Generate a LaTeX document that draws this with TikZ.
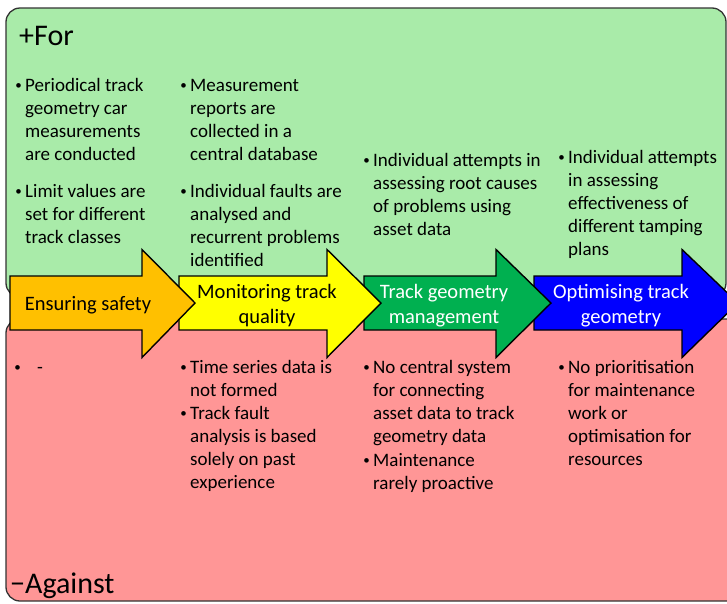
\documentclass[tikz,border=0pt]{standalone}
\usepackage{fontspec}
\setmainfont{Carlito}
\newcommand{\plines}[1]{\parbox[t]{220pt}{\raggedright #1}}
\definecolor{forgreen}{RGB}{169,235,169}
\definecolor{againstred}{RGB}{255,150,150}
\definecolor{arrorange}{RGB}{255,192,0}
\definecolor{arryellow}{RGB}{255,255,0}
\definecolor{arrgreen}{RGB}{0,176,80}
\definecolor{arrblue}{RGB}{0,0,255}
\begin{document}
\begin{tikzpicture}[x=1pt,y=-1pt,
  panel/.style={draw=black!80,line width=1.3pt,rounded corners=14pt},
  bigarrow/.style={draw=black,line width=1.4pt,line join=miter},
  bul/.style={anchor=base west,inner sep=0pt,font=\fontsize{19}{23.2}\selectfont},
  bdot/.style={anchor=base east,inner sep=0pt,font=\fontsize{13}{13}\selectfont},
  lab/.style={anchor=base,inner sep=0pt,align=center,font=\fontsize{20.5}{25}\selectfont},
  paneltitle/.style={anchor=base west,inner sep=0pt,font=\fontsize{30}{36}\selectfont}]
\useasboundingbox (0,0) rectangle (727,603);
\clip (0,0) rectangle (727,603);
% panels
\path[panel,fill=forgreen] (6,8) rectangle (726,297);
\path[panel,fill=againstred] (6,319) rectangle (770,601);
\node[paneltitle] (fortitle) at (19,45) {+For};
\node[paneltitle] (againsttitle) at (10,593) {{\char"2212\relax}Against};
% arrows (drawn right to left so each head lies over the next body)
\path[bigarrow,fill=arrblue] (534,276) -- (682,276) -- (682,249.5) -- (738,303) -- (682,357.5) -- (682,330) -- (534,330) -- cycle;
\path[bigarrow,fill=arrgreen] (364,276) -- (496,276) -- (496,249.5) -- (551,303) -- (496,357.5) -- (496,330) -- (364,330) -- cycle;
\path[bigarrow,fill=arryellow] (179,276) -- (327,276) -- (327,249.5) -- (381,303) -- (327,357.5) -- (327,330) -- (179,330) -- cycle;
\path[bigarrow,fill=arrorange] (10,276) -- (142,276) -- (142,249.5) -- (195,303) -- (142,357.5) -- (142,330) -- (10,330) -- cycle;
\node[lab] (l1) at (88,310) {Ensuring safety};
\node[lab] (l2) at (267,323) {Monitoring track\\quality};
\node[lab,text=white] (l3) at (444,323) {Track geometry\\management};
\node[lab,text=white] (l4) at (621,323) {Optimising track\\geometry};
% For bullets
\node[bdot] (d1) at (22,89.5) {•};
\node[bul] (f1) at (25,91) {\plines{Periodical track\\geometry car\\measurements\\are conducted}};
\node[bdot] (d2) at (22,195.5) {•};
\node[bul] (f2) at (25,197) {\plines{Limit values are\\set for different\\track classes}};
\node[bdot] (d3) at (187,89.5) {•};
\node[bul] (f3) at (190,91) {\plines{Measurement\\reports are\\collected in a\\central database}};
\node[bdot] (d4) at (187,195.5) {•};
\node[bul] (f4) at (190,197) {\plines{Individual faults are\\analysed and\\recurrent problems\\identified}};
\node[bdot] (d5) at (370,164.5) {•};
\node[bul] (f5) at (373,166) {\plines{Individual attempts in\\assessing root causes\\of problems using\\asset data}};
\node[bdot] (d6) at (565,161.5) {•};
\node[bul] (f6) at (568,163) {\plines{Individual attempts\\in assessing\\effectiveness of\\different tamping\\plans}};
% Against bullets
\node[bdot] (a0) at (21,371.5) {•};
\node[bul] (a0t) at (37,373) {-};
\node[bdot] (d7) at (187,371.5) {•};
\node[bul] (a1) at (190,373) {\plines{Time series data is\\not formed}};
\node[bdot] (d8) at (187,417.5) {•};
\node[bul] (a2) at (190,419) {\plines{Track fault\\analysis is based\\solely on past\\experience}};
\node[bdot] (d9) at (370,371.5) {•};
\node[bul] (a3) at (373,373) {\plines{No central system\\for connecting\\asset data to track\\geometry data}};
\node[bdot] (d10) at (370,464.5) {•};
\node[bul] (a4) at (373,466) {\plines{Maintenance\\rarely proactive}};
\node[bdot] (d11) at (565,371.5) {•};
\node[bul] (a5) at (568,373) {\plines{No prioritisation\\for maintenance\\work or\\optimisation for\\resources}};
\end{tikzpicture}
\end{document}
